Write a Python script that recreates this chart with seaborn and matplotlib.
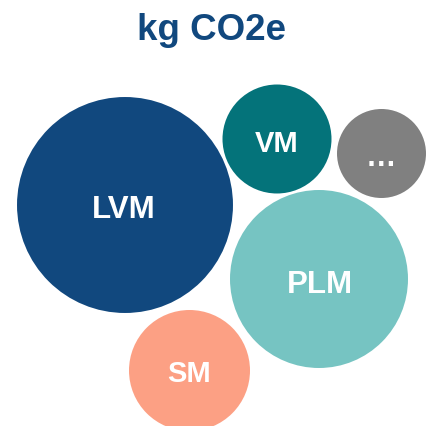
import numpy as np
import pandas as pd
import matplotlib
matplotlib.use("Agg")
import matplotlib.pyplot as plt
import seaborn as sns

# Data
labels = ["LVM", "VM", "\u2026", "PLM", "SM"]
values = [116.6, 29.7, 19.8, 79.2, 36.6]   # relative kg CO2e (bubble area)
colors = ["#11487e", "#04737a", "#808080", "#76c4c2", "#fca084"]

# Layout (packed bubble positions, pixels from top-left)
pos_x = [125, 277, 381.5, 319, 189.5]
pos_y = [206, 140, 154.5, 280, 371.5]
label_x = [124.2, 277, 381.2, 319.5, 189.5]
label_baseline = [218.3, 151.7, 166.2, 292.7, 381.7]
label_size = [22.5, 21, 22, 22.5, 21]

W, H, DPI = 426, 427, 100
sns.set_theme(style="white")
plt.rcParams['font.family'] = ['Liberation Sans', 'DejaVu Sans']

fig = plt.figure(figsize=(W / DPI, H / DPI), dpi=DPI)
ax = fig.add_axes([0, 0, 1, 1])

df = pd.DataFrame({"label": labels, "value": values, "x": pos_x, "y": pos_y})
radius_px = np.sqrt(df["value"]) * 10.0
# scatter size in points^2: diameter in points squared
sizes = {l: (2 * r * 72.0 / DPI) ** 2 for l, r in zip(labels, radius_px)}
palette = dict(zip(labels, colors))

sns.scatterplot(data=df, x="x", y="y", hue="label", size="label",
                palette=palette, sizes=sizes, linewidth=0, legend=False,
                ax=ax, alpha=1)

for l, x, y, fs in zip(labels, label_x, label_baseline, label_size):
    ax.text(x, y, l, color="white", fontsize=fs, fontweight="bold",
            ha="center", va="baseline")

ax.set_xlim(0, W)
ax.set_ylim(H, 0)
ax.set_axis_off()

fig.text(211.5 / W, 1 - 40.5 / H, "kg CO2e", color="#11487e", fontsize=26.5,
         fontweight="bold", ha="center", va="baseline")

fig.savefig("out.png", dpi=DPI, facecolor="white")
